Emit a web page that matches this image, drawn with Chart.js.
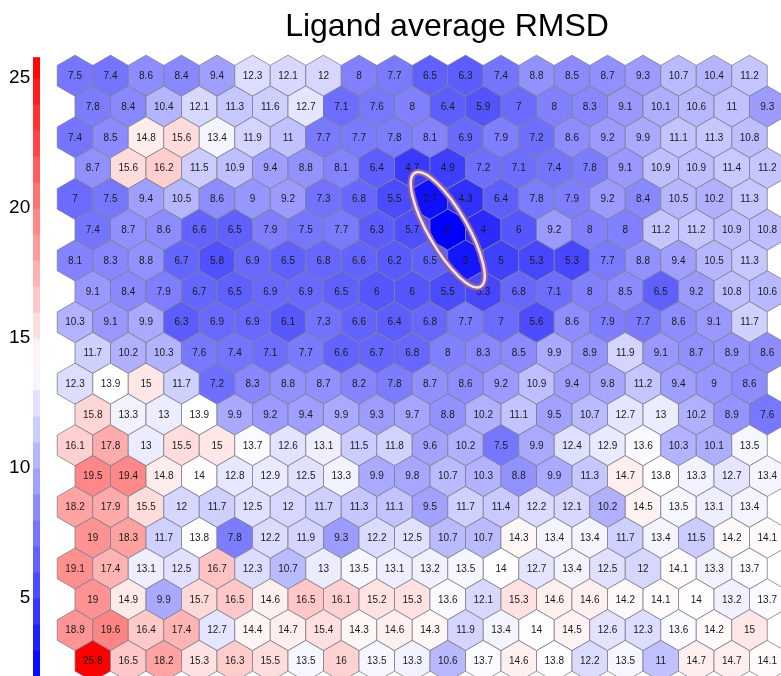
<!DOCTYPE html>
<html lang="en">
<head>
<meta charset="UTF-8">
<title>Ligand average RMSD</title>
<script src="https://cdn.jsdelivr.net/npm/chart.js"></script>
<style>
  html, body { margin: 0; padding: 0; background: #fff; }
</style>
</head>
<body>
<canvas id="som" width="781" height="676"></canvas>
<script>
// map rows, top to bottom; every second row sits half a cell to the right
const row01 = [7.5, 7.4, 8.6, 8.4, 9.4, 12.3, 12.1, 12, 8, 7.7, 6.5, 6.3, 7.4, 8.8, 8.5, 8.7, 9.3, 10.7, 10.4, 11.2];
const row02 = [7.8, 8.4, 10.4, 12.1, 11.3, 11.6, 12.7, 7.1, 7.6, 8, 6.4, 5.9, 7, 8, 8.3, 9.1, 10.1, 10.6, 11, 9.3];
const row03 = [7.4, 8.5, 14.8, 15.6, 13.4, 11.9, 11, 7.7, 7.7, 7.8, 8.1, 6.9, 7.9, 7.2, 8.6, 9.2, 9.9, 11.1, 11.3, 10.8];
const row04 = [8.7, 15.6, 16.2, 11.5, 10.9, 9.4, 8.8, 8.1, 6.4, 4.7, 4.9, 7.2, 7.1, 7.4, 7.8, 9.1, 10.9, 10.9, 11.4, 11.2];
const row05 = [7, 7.5, 9.4, 10.5, 8.6, 9, 9.2, 7.3, 6.8, 5.5, 2.7, 4.3, 6.4, 7.8, 7.9, 9.2, 8.4, 10.5, 10.2, 11.3];
const row06 = [7.4, 8.7, 8.6, 6.6, 6.5, 7.9, 7.5, 7.7, 6.3, 5.7, 2, 4, 6, 9.2, 8, 8, 11.2, 11.2, 10.9, 10.8];
const row07 = [8.1, 8.3, 8.8, 6.7, 5.8, 6.9, 6.5, 6.8, 6.6, 6.2, 6.5, 3, 5, 5.3, 5.3, 7.7, 8.8, 9.4, 10.5, 11.3];
const row08 = [9.1, 8.4, 7.9, 6.7, 6.5, 6.9, 6.9, 6.5, 6, 6, 5.5, 5.3, 6.8, 7.1, 8, 8.5, 6.5, 9.2, 10.8, 10.6];
const row09 = [10.3, 9.1, 9.9, 6.3, 6.9, 6.9, 6.1, 7.3, 6.6, 6.4, 6.8, 7.7, 7, 5.6, 8.6, 7.9, 7.7, 8.6, 9.1, 11.7];
const row10 = [11.7, 10.2, 10.3, 7.6, 7.4, 7.1, 7.7, 6.6, 6.7, 6.8, 8, 8.3, 8.5, 9.9, 8.9, 11.9, 9.1, 8.7, 8.9, 8.6];
const row11 = [12.3, 13.9, 15, 11.7, 7.2, 8.3, 8.8, 8.7, 8.2, 7.8, 8.7, 8.6, 9.2, 10.9, 9.4, 9.8, 11.2, 9.4, 9, 8.6];
const row12 = [15.8, 13.3, 13, 13.9, 9.9, 9.2, 9.4, 9.9, 9.3, 9.7, 8.8, 10.2, 11.1, 9.5, 10.7, 12.7, 13, 10.2, 8.9, 7.6];
const row13 = [16.1, 17.8, 13, 15.5, 15, 13.7, 12.6, 13.1, 11.5, 11.8, 9.6, 10.2, 7.5, 9.9, 12.4, 12.9, 13.6, 10.3, 10.1, 13.5];
const row14 = [19.5, 19.4, 14.8, 14, 12.8, 12.9, 12.5, 13.3, 9.9, 9.8, 10.7, 10.3, 8.8, 9.9, 11.3, 14.7, 13.8, 13.3, 12.7, 13.4];
const row15 = [18.2, 17.9, 15.5, 12, 11.7, 12.5, 12, 11.7, 11.3, 11.1, 9.5, 11.7, 11.4, 12.2, 12.1, 10.2, 14.5, 13.5, 13.1, 13.4];
const row16 = [19, 18.3, 11.7, 13.8, 7.8, 12.2, 11.9, 9.3, 12.2, 12.5, 10.7, 10.7, 14.3, 13.4, 13.4, 11.7, 13.4, 11.5, 14.2, 14.1];
const row17 = [19.1, 17.4, 13.1, 12.5, 16.7, 12.3, 10.7, 13, 13.5, 13.1, 13.2, 13.5, 14, 12.7, 13.4, 12.5, 12, 14.1, 13.3, 13.7];
const row18 = [19, 14.9, 9.9, 15.7, 16.5, 14.6, 16.5, 16.1, 15.2, 15.3, 13.6, 12.1, 15.3, 14.6, 14.6, 14.2, 14.1, 14, 13.2, 13.7];
const row19 = [18.9, 19.6, 16.4, 17.4, 12.7, 14.4, 14.7, 15.4, 14.3, 14.6, 14.3, 11.9, 13.4, 14, 14.5, 12.6, 12.3, 13.6, 14.2, 15];
const row20 = [25.8, 16.5, 18.2, 15.3, 16.3, 15.5, 13.5, 16, 13.5, 13.3, 10.6, 13.7, 14.6, 13.8, 12.2, 13.5, 11, 14.7, 14.7, 14.1];

const rows = [row01, row02, row03, row04, row05, row06, row07, row08, row09, row10,
              row11, row12, row13, row14, row15, row16, row17, row18, row19, row20];

const colorTicks = [5, 10, 15, 20, 25];
const valueMin = 2;
const valueMax = 25.8;

// blue -> white -> red, white at the middle of the range
function cellColor(v) {
    const mid = (valueMin + valueMax) / 2;
    if (v <= mid) {
        const c = Math.round(255 * Math.max(0, (v - valueMin) / (mid - valueMin)));
        return `rgb(${c},${c},255)`;
    }
    const c = Math.round(255 * Math.max(0, (valueMax - v) / (valueMax - mid)));
    return `rgb(255,${c},${c})`;
}

let points = [];
rows.forEach(function (vals, r) {
    vals.forEach(function (v, c) {
        points.push({ x: c + (r % 2 ? 0.5 : 0), y: r, v: v });
    });
});

function hexPath(ctx, cx, cy, R) {
    ctx.beginPath();
    for (let k = 0; k < 6; k++) {
        const a = Math.PI / 180 * (60 * k - 90);
        const px = cx + R * Math.cos(a), py = cy + R * Math.sin(a);
        if (k === 0) ctx.moveTo(px, py); else ctx.lineTo(px, py);
    }
    ctx.closePath();
}

const hexPlugin = {
    id: 'hexmap',
    afterDatasetsDraw(chart) {
        const ctx = chart.ctx;
        const xs = chart.scales.x, ys = chart.scales.y, cb = chart.scales.cb;
        const unit = xs.getPixelForValue(1) - xs.getPixelForValue(0);
        const R = unit / Math.sqrt(3);
        const meta = chart.getDatasetMeta(0);
        ctx.save();
        meta.data.forEach(function (el, i) {
            const v = chart.data.datasets[0].data[i].v;
            hexPath(ctx, el.x, el.y, R);
            ctx.fillStyle = cellColor(v);
            ctx.fill();
            ctx.lineWidth = 0.8;
            ctx.strokeStyle = '#7d7d8c';
            ctx.stroke();
        });
        ctx.fillStyle = '#1a1a1a';
        ctx.font = '10px "Liberation Sans", Arial, sans-serif';
        ctx.textAlign = 'center';
        ctx.textBaseline = 'middle';
        meta.data.forEach(function (el, i) {
            ctx.fillText(String(chart.data.datasets[0].data[i].v), el.x, el.y + 0.5);
        });

        // highlighted region around the lowest cells
        const ex = xs.getPixelForValue(10.5), ey = ys.getPixelForValue(5);
        ctx.beginPath();
        ctx.ellipse(ex, ey, unit * 1.85, unit * 0.55, Math.PI / 3, 0, Math.PI * 2);
        ctx.lineWidth = 6.5;
        ctx.strokeStyle = '#8f6198';
        ctx.stroke();
        ctx.lineWidth = 2.5;
        ctx.strokeStyle = '#ede0f0';
        ctx.stroke();

        // colour bar
        const bx = 33, bw = 7;
        for (let v = valueMin; v < valueMax; v += 1) {
            const top = cb.getPixelForValue(Math.min(v + 1, valueMax));
            const bot = cb.getPixelForValue(v);
            ctx.fillStyle = cellColor(Math.min(v + 0.5, valueMax));
            ctx.fillRect(bx, top, bw, bot - top + 0.5);
        }
        ctx.restore();

        // title
        ctx.save();
        ctx.fillStyle = '#000';
        ctx.font = '32px "Liberation Sans", Arial, sans-serif';
        ctx.textAlign = 'center';
        ctx.textBaseline = 'middle';
        ctx.fillText('Ligand average RMSD', 447, 27);
        ctx.restore();
    }
};

new Chart(document.getElementById('som'), {
    type: 'scatter',
    data: {
        datasets: [{
            label: 'RMSD',
            data: points,
            pointRadius: 0,
            pointHoverRadius: 0
        }]
    },
    options: {
        responsive: false,
        animation: false,
        devicePixelRatio: 1,
        layout: { padding: { top: 57.2, right: 0, bottom: 0, left: 0 } },
        plugins: {
            legend: { display: false },
            tooltip: { enabled: false },
            title: { display: false }
        },
        scales: {
            x: { type: 'linear', min: -0.5, max: 19.887, display: false },
            y: { type: 'linear', min: -0.6, max: 19.49, reverse: true, display: false },
            cb: {
                type: 'linear',
                position: 'left',
                min: valueMin,
                max: valueMax,
                grid: { display: false, drawTicks: false },
                border: { display: false },
                afterBuildTicks(s) { s.ticks = colorTicks.map(v => ({ value: v })); },
                afterFit(s) { s.width = 57.25; s.paddingTop = 0; s.paddingBottom = 0; },
                ticks: {
                    padding: 27,
                    color: '#000',
                    font: { size: 19, family: '"Liberation Sans", Arial, sans-serif' }
                }
            }
        }
    },
    plugins: [hexPlugin]
});
</script>
</body>
</html>
